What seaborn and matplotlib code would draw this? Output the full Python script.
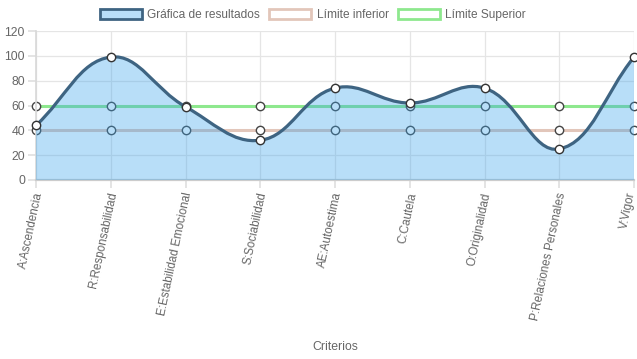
import numpy as np
import matplotlib
matplotlib.use("Agg")
import matplotlib.pyplot as plt
import matplotlib.transforms as mtransforms
import seaborn as sns
from matplotlib.path import Path
from matplotlib.patches import PathPatch, Patch

# Data
criterios = ["A:Ascendencia", "R:Responsabilidad", "E:Estabilidad Emocional",
             "S:Sociabilidad", "AE:Autoestima", "C:Cautela", "O:Originalidad",
             "P:Relaciones Personales", "V:Vigor"]
resultados = [44, 99, 59, 32, 74, 62, 74, 25, 99]
limite_inferior = [40, 40, 40, 40, 40, 40, 40, 40, 40]
limite_superior = [60, 60, 60, 60, 60, 60, 60, 60, 60]
y_ticks = [0, 20, 40, 60, 80, 100, 120]

sns.set_theme(style="white")
plt.rcParams["font.family"] = ["Liberation Sans", "DejaVu Sans"]

GRAY = "#666666"
LINE = "#3e6482"
FILL = (54 / 255, 162 / 255, 235 / 255, 0.35)
LOW = "#e2c6ba"
UP = "#8ee88e"

fig = plt.figure(figsize=(6.37, 3.59), dpi=100)
ax = fig.add_axes([36 / 637, 1 - 180 / 359, (634 - 36) / 637, (180 - 31) / 359])
ax.set_xlim(0, len(criterios) - 1)
ax.set_ylim(0, 120)

x = np.arange(len(criterios))

# limit lines (under the fill)
for vals, col in [(limite_inferior, LOW), (limite_superior, UP)]:
    sns.lineplot(x=x, y=vals, ax=ax, color=col, lw=2.2, zorder=2,
                 marker="o", markersize=6, markerfacecolor="white",
                 markeredgecolor="#444444", markeredgewidth=1.0, clip_on=False)

# smooth curve control points (Chart.js style tension, in pixel space)
sx = (634 - 36) / (len(criterios) - 1)
sy = (180 - 31) / 120.0
t = 0.4
px = x * sx
py = np.array(resultados) * sy
cps = []
n = len(px)
for i in range(n):
    p0 = (px[max(i - 1, 0)], py[max(i - 1, 0)])
    p1 = (px[i], py[i])
    p2 = (px[min(i + 1, n - 1)], py[min(i + 1, n - 1)])
    d01 = np.hypot(p1[0] - p0[0], p1[1] - p0[1])
    d12 = np.hypot(p2[0] - p1[0], p2[1] - p1[1])
    s01 = d01 / (d01 + d12)
    s12 = d12 / (d01 + d12)
    fa, fb = t * s01, t * s12
    c1 = (p1[0] - fa * (p2[0] - p0[0]), p1[1] - fa * (p2[1] - p0[1]))
    c2 = (p1[0] + fb * (p2[0] - p0[0]), p1[1] + fb * (p2[1] - p0[1]))
    c1 = (c1[0] / sx, min(max(c1[1] / sy, 0), 120))
    c2 = (c2[0] / sx, min(max(c2[1] / sy, 0), 120))
    cps.append((c1, c2))

verts = [(x[0], resultados[0])]
codes = [Path.MOVETO]
for i in range(n - 1):
    verts += [cps[i][1], cps[i + 1][0], (x[i + 1], resultados[i + 1])]
    codes += [Path.CURVE4] * 3

fill_verts = verts + [(x[-1], 0), (x[0], 0), (x[0], resultados[0])]
fill_codes = codes + [Path.LINETO, Path.LINETO, Path.CLOSEPOLY]
ax.add_patch(PathPatch(Path(fill_verts, fill_codes), facecolor=FILL, edgecolor="none", zorder=3))
ax.add_patch(PathPatch(Path(verts, codes), facecolor="none", edgecolor=LINE, lw=2.3, zorder=4))
ax.plot(x, resultados, "o", ms=6, mfc="white", mec="#333333", mew=1.0, zorder=5, clip_on=False)

# axes styling
ax.set_xticks(x)
ax.set_xticklabels(criterios, rotation=78, ha="right", va="center",
                   rotation_mode="anchor", color=GRAY, fontsize=8.4)
ax.set_yticks(y_ticks)
ax.set_yticklabels([str(v) for v in y_ticks], color=GRAY, fontsize=8.8)
ax.tick_params(axis="x", length=6, color="#e0e0e0", pad=3, bottom=True)
ax.tick_params(axis="y", length=6, color="#e0e0e0", pad=2, left=True)
ax.grid(True, color="#e5e5e5", lw=0.9, zorder=0)
ax.set_axisbelow(True)
for s in ["top", "right"]:
    ax.spines[s].set_visible(False)
ax.spines["left"].set_color("#d9d9d9")
ax.spines["bottom"].set_color("#cccccc")
ax.spines["bottom"].set_linewidth(1.6)
ax.set_xlabel("")
ax.set_ylabel("")

# shift tick labels a bit right, last one a bit left to stay inside
labels = ax.get_xticklabels()
for i, lbl in enumerate(labels):
    dx = 3 if i < len(labels) - 1 else -2
    lbl.set_transform(lbl.get_transform() +
                      mtransforms.ScaledTranslation(dx / 100, 0, fig.dpi_scale_trans))

fig.text(335 / 637, 1 - 347 / 359, "Criterios", ha="center", va="center",
         color=GRAY, fontsize=8.8)

handles = [
    Patch(facecolor=FILL, edgecolor=LINE, lw=2),
    Patch(facecolor="white", edgecolor=LOW, lw=2),
    Patch(facecolor="white", edgecolor=UP, lw=2),
]
fig.legend(handles, ["Gráfica de resultados", "Límite inferior", "Límite Superior"],
           loc="center", bbox_to_anchor=(313 / 637, 1 - 15 / 359), ncol=3,
           frameon=False, fontsize=8.6, labelcolor=GRAY, handlelength=3.5,
           handleheight=1.0, handletextpad=0.45, columnspacing=0.8, borderpad=0)

fig.savefig("out.png", dpi=100)
